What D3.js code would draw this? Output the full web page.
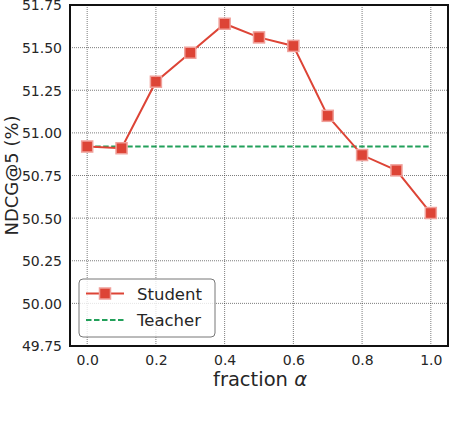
<!DOCTYPE html>
<html><head><meta charset="utf-8">
<script src="https://cdn.jsdelivr.net/npm/d3@7"></script>
<style>body{margin:0;background:#fff;overflow:hidden}</style>
</head><body>
<script>
const fractions = [0.0,0.1,0.2,0.3,0.4,0.5,0.6,0.7,0.8,0.9,1.0];
const studentValues = [50.92,50.91,51.30,51.47,51.64,51.56,51.51,51.10,50.87,50.78,50.53];
const teacherValue = 50.92;
const xTicks = [0.0,0.2,0.4,0.6,0.8,1.0];
const yTicks = [49.75,50.00,50.25,50.50,50.75,51.00,51.25,51.50,51.75];

const W=450,H=422;
const m={l:70,r:2,t:5,b:76};
const svg=d3.select("body").append("svg").attr("width",W).attr("height",H);
const x=d3.scaleLinear().domain([-0.05,1.05]).range([m.l,W-m.r]);
const y=d3.scaleLinear().domain([49.75,51.75]).range([H-m.b,m.t]);
const font="DejaVu Sans";
const tc="#262626";

// grid
const g=svg.append("g");
g.selectAll(".vg").data(xTicks).join("line").attr("x1",d=>x(d)).attr("x2",d=>x(d))
 .attr("y1",m.t).attr("y2",H-m.b).attr("stroke","#333").attr("stroke-width",0.8).attr("stroke-dasharray","1,1").attr("opacity",0.8);
g.selectAll(".hg").data(yTicks).join("line").attr("y1",d=>y(d)).attr("y2",d=>y(d))
 .attr("x1",m.l).attr("x2",W-m.r).attr("stroke","#333").attr("stroke-width",0.8).attr("stroke-dasharray","1,1").attr("opacity",0.8);

// axes labels via d3 axis
const xa=svg.append("g").attr("transform",`translate(0,${H-m.b})`)
 .call(d3.axisBottom(x).tickValues(xTicks).tickFormat(d3.format(".1f")).tickSize(0).tickPadding(9));
const ya=svg.append("g").attr("transform",`translate(${m.l},0)`)
 .call(d3.axisLeft(y).tickValues(yTicks).tickFormat(d3.format(".2f")).tickSize(0).tickPadding(8));
[xa,ya].forEach(a=>{a.select(".domain").remove();a.selectAll("text").attr("font-family",font).attr("font-size",14).attr("fill",tc);});
ya.selectAll("text").attr("dy","0.35em");

// teacher
svg.append("line").attr("x1",x(0)).attr("x2",x(1)).attr("y1",y(teacherValue)).attr("y2",y(teacherValue))
 .attr("stroke","#22a05a").attr("stroke-width",2).attr("stroke-dasharray","5.5,2.5");

// student
const red="#dd4436";
svg.append("path").datum(fractions.map((f,i)=>[f,studentValues[i]]))
 .attr("d",d3.line().x(d=>x(d[0])).y(d=>y(d[1]))).attr("fill","none").attr("stroke",red).attr("stroke-width",2);
svg.selectAll(".mk").data(fractions.map((f,i)=>[f,studentValues[i]])).join("rect")
 .attr("x",d=>x(d[0])-5.5).attr("y",d=>y(d[1])-5.5).attr("width",11).attr("height",11)
 .attr("fill",red).attr("stroke","#f0a09a").attr("stroke-width",1.5);

// frame
svg.append("rect").attr("x",m.l).attr("y",m.t).attr("width",W-m.r-m.l).attr("height",H-m.b-m.t)
 .attr("fill","none").attr("stroke","#111").attr("stroke-width",2);

// legend
const lg=svg.append("g");
lg.append("rect").attr("x",79).attr("y",279).attr("width",136).attr("height",58).attr("rx",4)
 .attr("fill","#fff").attr("fill-opacity",0.8).attr("stroke","#777").attr("stroke-width",1);
lg.append("line").attr("x1",86).attr("x2",124).attr("y1",293.5).attr("y2",293.5).attr("stroke",red).attr("stroke-width",2);
lg.append("rect").attr("x",99.5).attr("y",288).attr("width",11).attr("height",11).attr("fill",red).attr("stroke","#f0a09a").attr("stroke-width",1.5);
lg.append("line").attr("x1",86).attr("x2",124).attr("y1",320).attr("y2",320).attr("stroke","#22a05a").attr("stroke-width",2).attr("stroke-dasharray","5.5,2.5");
lg.append("text").attr("x",137).attr("y",300).text("Student").attr("font-family",font).attr("font-size",16.5).attr("fill",tc);
lg.append("text").attr("x",137).attr("y",326).text("Teacher").attr("font-family",font).attr("font-size",16.5).attr("fill",tc);

// axis titles
const xt=svg.append("text").attr("x",260).attr("y",386).attr("text-anchor","middle").attr("font-family",font).attr("font-size",19.5).attr("fill",tc);
xt.append("tspan").text("fraction ");
xt.append("tspan").attr("font-style","italic").text("α");
svg.append("text").attr("transform",`translate(18,${(m.t+H-m.b)/2}) rotate(-90)`).attr("text-anchor","middle")
 .attr("font-family",font).attr("font-size",18).attr("fill",tc).text("NDCG@5 (%)");

// caption of the source figure, cut off by the bottom edge as in the reference
svg.append("text").attr("x",12).attr("y",440).attr("font-family","DejaVu Serif").attr("font-size",21).attr("fill","#111")
 .text("Figure 3: NDCG@5 with varying fraction α");
</script>
</body></html>
